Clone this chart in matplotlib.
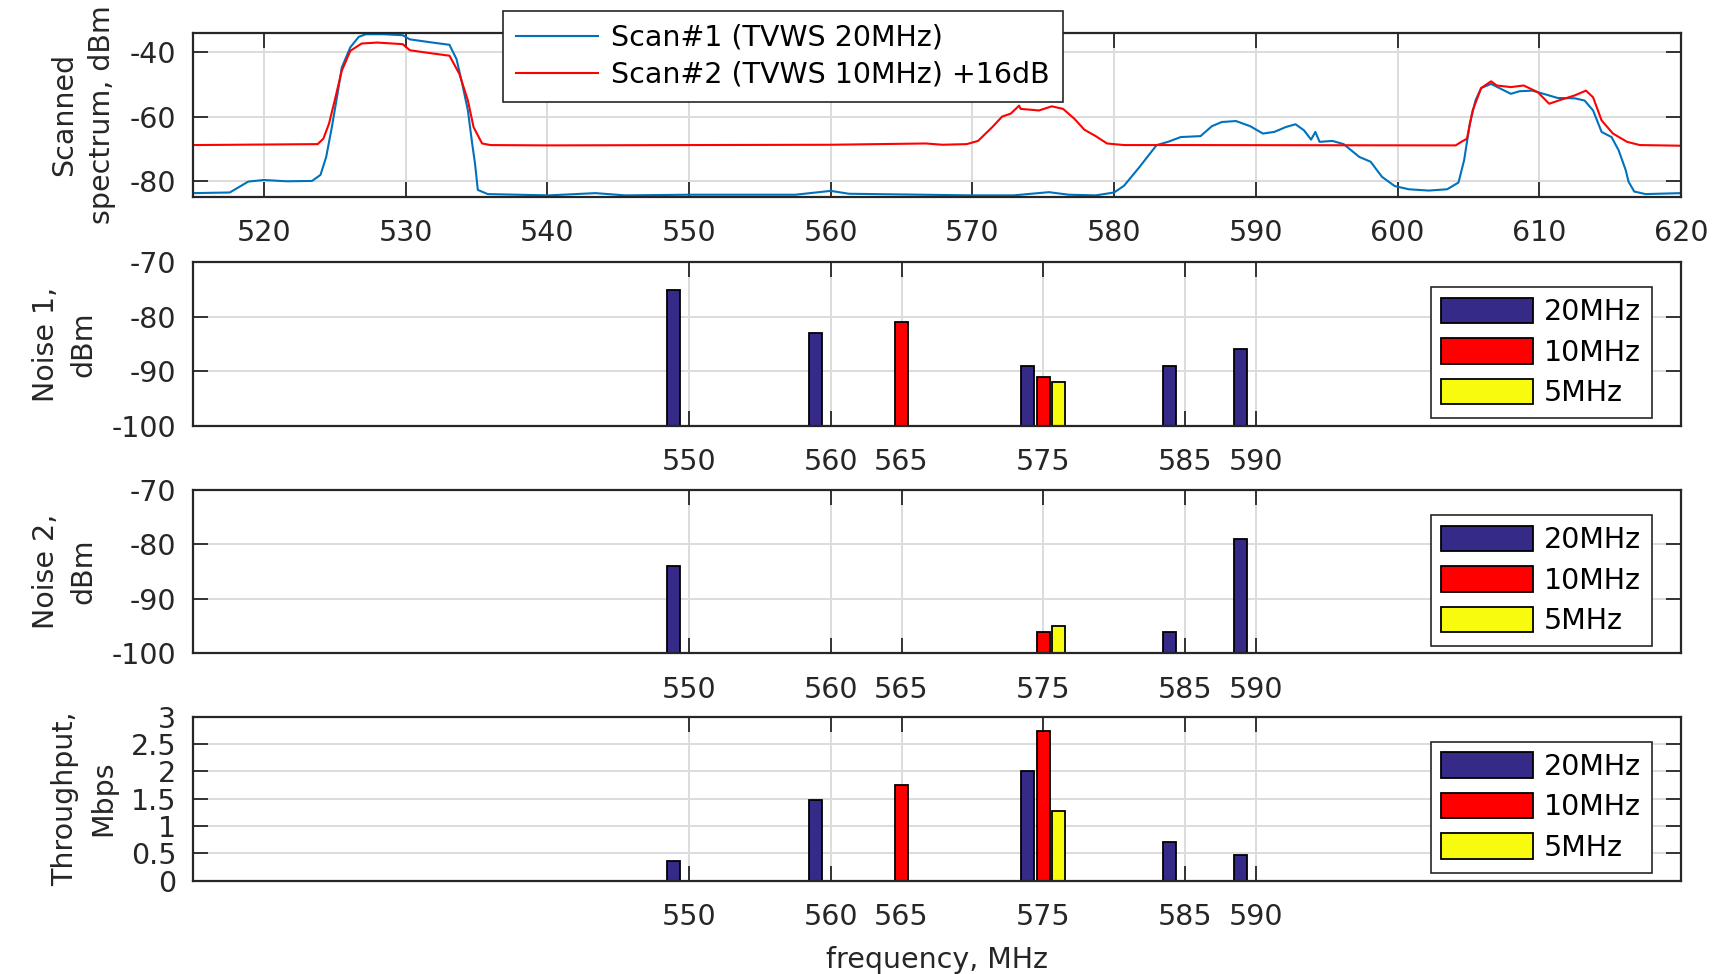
"""TVWS scan + per-channel noise / throughput, 4 stacked panels (MATLAB look)."""
import numpy as np
import matplotlib
matplotlib.use("Agg")
import matplotlib.pyplot as plt

plt.rcParams["font.family"] = ["DejaVu Sans"]
plt.rcParams["axes.unicode_minus"] = False

# ── scanned spectrum ────────────────────────────────────────────────────────
scan1_f = [515, 517.6, 518.9, 520, 521.6, 523.4, 524, 524.4, 524.8, 525.2, 525.5, 526.1,
           526.7, 527.2, 528.4, 529.8, 530.3, 531.9, 533.1, 533.6, 534.0, 534.4, 534.7,
           534.9, 535.1, 535.8, 540.1, 543.4, 545.5, 550, 557.5, 560, 561.3,
           570, 572.9, 575.4, 576.8, 578.7, 580, 580.7, 581.8, 583, 583.8, 584.7, 586.1,
           586.9, 587.6, 588.6, 589.6, 590.5, 591.3, 592.1, 592.8, 593.4, 593.9, 594.2,
           594.5, 595.4, 596.2, 597.3, 598.1, 598.9, 599.8, 600.8, 602.2, 603.5, 604.3,
           604.7, 605.1, 605.5, 605.9, 606.6, 607, 608, 608.6, 609.5, 610.3, 611.3, 612.5,
           613.2, 613.8, 614.4, 615.1, 615.6, 616.1, 616.3, 616.7, 617.5, 620]
scan1_dbm = [-83.9, -83.7, -80.3, -79.8, -80.2, -80.1, -78.2, -72.6, -63.3, -52.9, -44.7, -38.4,
             -35.1, -34.3, -34.3, -34.6, -35.9, -36.9, -37.6, -42.1, -49.8, -58.1, -68.4,
             -74.6, -82.9, -84.2, -84.6, -83.9, -84.6, -84.4, -84.4, -83.2, -84.1,
             -84.6, -84.6, -83.6, -84.4, -84.6, -83.7, -81.6, -75.7, -68.9, -67.9, -66.4, -66.1,
             -63.0, -61.7, -61.4, -63.0, -65.3, -64.8, -63.3, -62.4, -64.3, -67.2, -64.8,
             -67.9, -67.6, -68.6, -72.6, -74.1, -78.8, -81.7, -82.7, -83.1, -82.7, -80.6,
             -73.6, -62.2, -55.0, -51.1, -49.8, -50.7, -52.9, -52.1, -51.9, -52.9, -54.2, -54.3,
             -55.0, -58.1, -64.8, -66.4, -70.5, -76.7, -80.3, -83.4, -84.2, -83.9]

scan2_f = [515, 523.8, 524.2, 524.6, 525, 525.5, 526.1, 526.9, 528, 529.8, 530.3, 531.9,
           533.1, 533.8, 534.4, 534.8, 535.4, 536, 540.1, 550, 560, 566.7, 567.9, 569.6,
           570.4, 571.4, 572.1, 572.7, 573.3, 573.4, 574.7, 575.6, 576.4, 577.2, 577.9,
           578.7, 579.5, 580.7, 585.3, 604.1, 604.5, 604.9, 605.3, 605.9, 606.6, 607, 608,
           608.9, 609.9, 610.7, 611.5, 612.5, 613.3, 613.8, 614.4, 615.2, 616.2, 617.1, 620]
scan2_dbm = [-68.9, -68.6, -66.9, -62.2, -55.0, -45.7, -39.5, -37.2, -36.9, -37.4, -39.3, -40.3,
             -41.0, -46.7, -55.0, -63.3, -68.4, -68.9, -69.0, -68.9, -68.8, -68.4, -68.8, -68.6,
             -67.6, -63.3, -60.0, -59.1, -56.6, -57.6, -58.1, -56.8, -57.6, -60.7, -64.1,
             -66.1, -68.4, -68.9, -68.9, -69.0, -67.9, -66.9, -58.1, -51.1, -49.0, -50.3, -50.8,
             -50.3, -52.4, -56.0, -54.8, -53.4, -51.9, -54.0, -61.2, -65.3, -67.9, -68.9, -69.1]

# ── per-channel results ─────────────────────────────────────────────────────
channels = [550, 560, 565, 575, 585, 590]
bw_labels = ["20MHz", "10MHz", "5MHz"]
noise1 = {"20MHz": [-75, -83, -100, -89, -89, -86],
          "10MHz": [-100, -100, -81, -91, -100, -100],
          "5MHz": [-100, -100, -100, -92, -100, -100]}
noise2 = {"20MHz": [-84, -100, -100, -100, -96, -79],
          "10MHz": [-100, -100, -100, -96, -100, -100],
          "5MHz": [-100, -100, -100, -95, -100, -100]}
throughput = {"20MHz": [0.36, 1.48, 0, 2.0, 0.70, 0.47],
              "10MHz": [0, 0, 1.75, 2.74, 0, 0],
              "5MHz": [0, 0, 0, 1.27, 0, 0]}

BAR_COLORS = {"20MHz": "#352A87", "10MHz": "#FF0000", "5MHz": "#F9FB0E"}
OFFSETS = {"20MHz": -1.1, "10MHz": 0.0, "5MHz": 1.1}
AX_COL = "#262626"
FS = 20.5


def style(ax):
    ax.set_xlim(515, 620)
    ax.grid(True, color="#dcdcdc", lw=1.4)
    ax.set_axisbelow(True)
    for s in ax.spines.values():
        s.set_color(AX_COL); s.set_linewidth(1.6)
    ax.tick_params(direction="in", length=11, width=1.3, color=AX_COL,
                   top=True, right=True, labelsize=FS, labelcolor="#262626")
    ax.tick_params(axis="x", pad=16)
    ax.tick_params(axis="y", pad=12)


def ylabel(ax, txt):
    ax.set_ylabel(txt, fontsize=FS, linespacing=1.45, labelpad=10, color="#262626")


fig = plt.figure(figsize=(17.23, 9.74), dpi=100)
L, W = 0.1120, 0.8636
ax0 = fig.add_axes([L, 0.7981, W, 0.1684])
ax1 = fig.add_axes([L, 0.5629, W, 0.1678])
ax2 = fig.add_axes([L, 0.3292, W, 0.1677])
ax3 = fig.add_axes([L, 0.0958, W, 0.1684])

# top: scanned spectrum
ax0.plot(scan1_f, scan1_dbm, color="#0072BD", lw=1.5, label="Scan#1 (TVWS 20MHz)")
ax0.plot(scan2_f, scan2_dbm, color="#FF0000", lw=1.5, label="Scan#2 (TVWS 10MHz) +16dB")
style(ax0)
ax0.set_ylim(-85, -33.8)
ax0.set_yticks([-80, -60, -40])
ax0.set_xticks(np.arange(520, 621, 10))
ylabel(ax0, "Scanned\nspectrum, dBm")
leg = ax0.legend(loc="upper left", bbox_to_anchor=(0.2083, 1.132), borderaxespad=0,
                 fontsize=FS, frameon=True, fancybox=False, framealpha=1,
                 handlelength=2.9, handletextpad=0.45, labelspacing=0.32, borderpad=0.45)
leg.get_frame().set_edgecolor(AX_COL); leg.get_frame().set_linewidth(1.2)

# bar panels
x = np.array(channels, dtype=float)
for ax, data, base, lab in [(ax1, noise1, -100, "Noise 1,\ndBm"),
                             (ax2, noise2, -100, "Noise 2,\ndBm"),
                             (ax3, throughput, 0, "Throughput,\nMbps")]:
    for bw in bw_labels:
        v = np.array(data[bw], dtype=float)
        ax.bar(x + OFFSETS[bw], v - base, bottom=base, width=0.92,
               color=BAR_COLORS[bw], edgecolor="black", linewidth=1.3, label=bw)
    style(ax)
    ax.set_xticks(channels)
    ylabel(ax, lab)
    lg = ax.legend(loc="upper right", bbox_to_anchor=(0.9805, 0.848), borderaxespad=0,
                   fontsize=FS, frameon=True, fancybox=False, framealpha=1,
                   handlelength=3.2, handleheight=1.0, handletextpad=0.4,
                   labelspacing=0.42, borderpad=0.38)
    lg.get_frame().set_edgecolor(AX_COL); lg.get_frame().set_linewidth(1.2)

for ax in (ax1, ax2):
    ax.set_ylim(-100, -70)
    ax.set_yticks([-100, -90, -80, -70])
ax3.set_ylim(0, 3)
ax3.set_yticks([0, 0.5, 1, 1.5, 2, 2.5, 3])
ax3.set_yticklabels(["0", "0.5", "1", "1.5", "2", "2.5", "3"])
ax3.set_xlabel("frequency, MHz", fontsize=FS, color="#262626", labelpad=11)

fig.savefig("out.png", dpi=100)
